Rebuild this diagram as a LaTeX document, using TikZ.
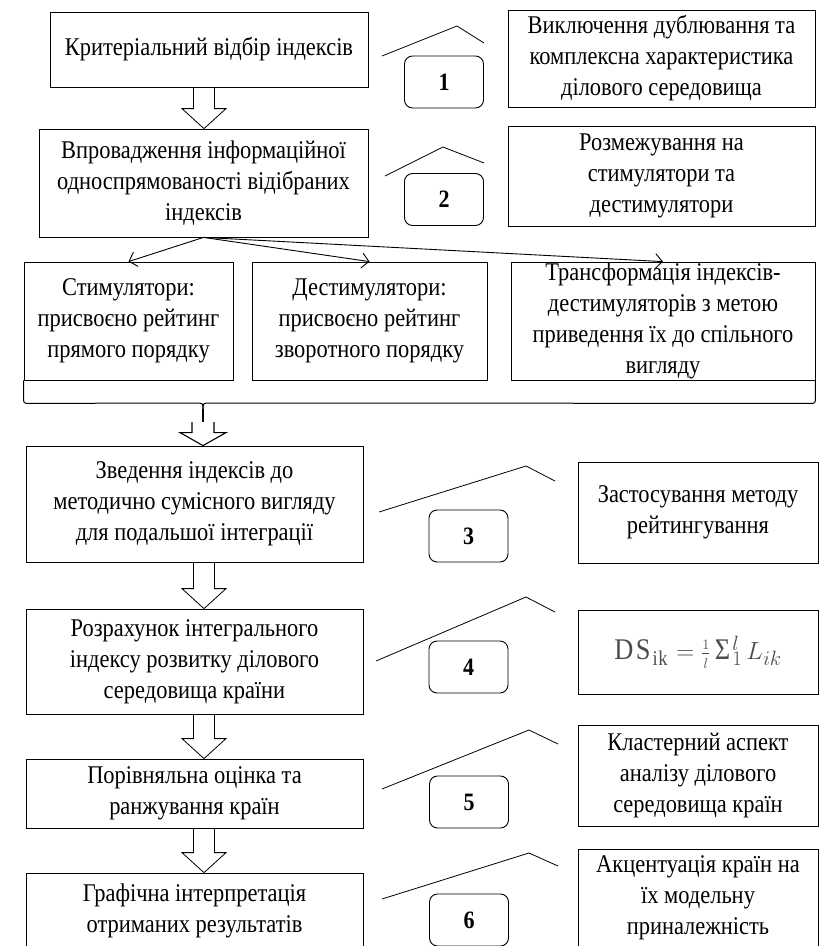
\documentclass[tikz,border=0pt]{standalone}
\usepackage{fontspec}
\setmainfont[FakeStretch=0.88]{Liberation Serif}
\usetikzlibrary{calc,arrows.meta}

\newcommand{\blockarrow}[6][]{%
  \draw[line width=0.8pt,line join=miter,#1] let \p1=(#2), \p2=(#3) in
    (\x1-#4pt,\y1) -- (\x1-#4pt,\y2+#6pt) -- (\x1-#5pt,\y2+#6pt) -- (\x1,\y2)
    -- (\x1+#5pt,\y2+#6pt) -- (\x1+#4pt,\y2+#6pt) -- (\x1+#4pt,\y1);}

\begin{document}
\begin{tikzpicture}[x=1pt,y=-1pt,
    box/.style={draw,line width=0.8pt,align=center,inner sep=0pt,
      font={\fontsize{25.5}{31}\selectfont}},
    numbox/.style={draw,line width=0.9pt,rounded corners=8pt,inner sep=0pt,
      minimum width=79pt,minimum height=52pt,font={\fontsize{25}{28}\selectfont\bfseries}},
    roof/.style={line width=0.8pt},
    thinarrow/.style={line width=0.9pt,-{Straight Barb[length=7pt,width=15pt]}}]
    \useasboundingbox (0,0) rectangle (825,946);

    %Ліва колонка
    \node[box,minimum width=318pt,minimum height=75pt] (crit) at (209,49.5) {Критеріальний відбір індексів};
    \node[box,minimum width=329pt,minimum height=108pt] (vpr) at (203.5,183) {Впровадження інформаційної\\односпрямованості відібраних\\індексів};
    \node[box,minimum width=209pt,minimum height=118pt] (stym) at (128.5,321) {Стимулятори:\\присвоєно рейтинг\\прямого порядку};
    \node[box,minimum width=235pt,minimum height=118pt] (destym) at (369.5,321) {Дестимулятори:\\присвоєно рейтинг\\зворотного порядку};
    \node[box,minimum width=304pt,minimum height=118pt] (transf) at (663,321) {Трансформація індексів-\\дестимуляторів з метою\\приведення їх до спільного\\вигляду};
    \node[box,minimum width=337pt,minimum height=116pt] (zved) at (194.5,504) {Зведення індексів до\\методично сумісного вигляду\\для подальшої інтеграції};
    \node[box,minimum width=337pt,minimum height=105pt] (rozr) at (194.5,661.5) {Розрахунок інтегрального\\індексу розвитку ділового\\середовища країни};
    \node[box,minimum width=337pt,minimum height=69pt] (porivn) at (194.5,793.5) {Порівняльна оцінка та\\ранжування країн};
    \node[box,minimum width=337pt,minimum height=76pt] (graf) at (194.5,911) {Графічна інтерпретація\\отриманих результатів};

    %Права колонка
    \node[box,minimum width=307pt,minimum height=97pt] (vykl) at (661.5,58.5) {Виключення дублювання та\\комплексна характеристика\\ділового середовища};
    \node[box,minimum width=307pt,minimum height=100pt] (rozm) at (661.5,176) {Розмежування на\\стимулятори та\\дестимулятори};
    \node[box,minimum width=240pt,minimum height=101pt] (zast) at (698,512.5) {Застосування методу\\рейтингування};
    \node[box,minimum width=240pt,minimum height=84pt,text=black!70,font={\fontsize{30}{34}\selectfont}] (formula) at (698,652)
      {$\mathrm{DS}_{\mathrm{ik}}=\frac{\scriptscriptstyle 1}{\scriptscriptstyle l}\,\mathrm{Σ}_{1}^{l}\,L_{ik}$};
    \node[box,minimum width=240pt,minimum height=101pt] (klast) at (698,775.5) {Кластерний аспект\\аналізу ділового\\середовища країн};
    \node[box,minimum width=240pt,minimum height=98pt] (akc) at (698,898) {Акцентуація країн на\\їх модельну\\приналежність};

    %Номери етапів
    \node[numbox] (n1) at (444,82) {1};
    \node[numbox] (n2) at (444,199.5) {2};
    \node[numbox] (n3) at (468.5,536) {3};
    \node[numbox] (n4) at (468.5,667) {4};
    \node[numbox] (n5) at (469,802) {5};
    \node[numbox] (n6) at (469,920) {6};

    %Дашки над номерами
    \draw[roof] (382,56) -- (457,26) -- (484,43);
    \draw[roof] (385,176) -- (443,147) -- (484,163);
    \draw[roof] (379,512) -- (526,466) -- (555,481);
    \draw[roof] (376,661) -- (526,597) -- (555,612);
    \draw[roof] (382,789) -- (529,730) -- (558,744);
    \draw[roof] (382,899) -- (529,853) -- (558,866);

    %Стрілки
    \coordinate (ax) at (204,0);
    \blockarrow{crit.south -| ax}{vpr.north -| ax}{10.5}{22}{20}
    \draw[thinarrow] (vpr.south) -- (stym.north);
    \draw[thinarrow] (vpr.south) -- (destym.north);
    \draw[thinarrow] (vpr.south) -- (transf.north);

    %Дужка під трьома блоками
    \coordinate (bracetip) at (203,422);
    \draw[line width=1pt] (stym.south west) -- ++(0,17) .. controls +(0,6) .. ++(6,6)
      -- (196,403) .. controls (203,403) .. (203,410);
    \draw[line width=1pt] (transf.south east) -- ++(0,17) .. controls +(0,6) .. ++(-6,6)
      -- (210,403) .. controls (203,403) .. (203,410);
    \draw[line width=1.6pt] (203,409) -- (bracetip);
    \blockarrow[line width=1.1pt]{bracetip}{zved.north -| bracetip}{11}{23}{13}
    \blockarrow{zved.south -| ax}{rozr.north -| ax}{10.5}{22}{20}
    \blockarrow{rozr.south -| ax}{porivn.north -| ax}{10.5}{22}{20}
    \blockarrow{porivn.south -| ax}{graf.north -| ax}{10.5}{22}{20}

\end{tikzpicture}
\end{document}
